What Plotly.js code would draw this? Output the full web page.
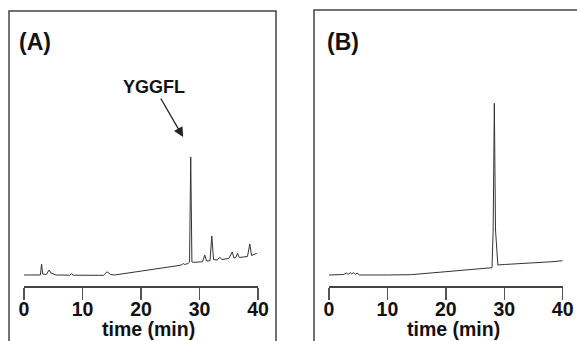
<!DOCTYPE html>
<html>
<head>
<meta charset="utf-8">
<script src="https://cdn.plot.ly/plotly-3.0.1.min.js"></script>
<style>html,body{margin:0;padding:0;background:#fff;}#chart{width:577px;height:341px;}</style>
</head>
<body>
<div id="chart"></div>
<script>
// Panel A chromatogram (time in min, detector signal in arbitrary units)
var timeA = [0, 2.8, 3.0, 3.2, 3.8, 4.3, 4.6, 5.0, 5.5, 7.8, 8.1, 8.4, 13.6, 14.2, 14.8, 15.5, 18, 20, 22, 25, 26.5, 27.0, 27.2, 27.4, 28.0, 28.3, 28.5, 28.7, 29.0, 30.5, 30.9, 31.2, 31.8, 32.1, 32.4, 33.0, 33.5, 33.8, 35.0, 35.6, 35.9, 36.2, 36.5, 36.8, 38.2, 38.6, 38.9, 39.8];
var signalA = [4.14, 4.14, 8.27, 4.51, 4.32, 6.02, 4.89, 4.51, 4.14, 4.06, 4.59, 4.06, 4.02, 5.34, 4.32, 4.14, 4.89, 5.64, 6.20, 7.14, 7.71, 8.01, 8.46, 8.08, 8.42, 9.02, 48.50, 9.02, 8.91, 9.10, 11.65, 9.40, 9.51, 18.80, 9.96, 9.77, 10.79, 9.96, 10.34, 12.78, 10.53, 10.71, 12.29, 10.71, 11.09, 15.79, 11.47, 12.29];

// Panel B chromatogram
var timeB = [0, 2.5, 3.0, 3.3, 3.6, 3.9, 4.2, 4.5, 4.8, 5.2, 10, 14, 20, 24.1, 27.5, 27.9, 28.1, 28.3, 28.5, 28.9, 30, 35, 38, 40];
var signalB = [4.14, 4.32, 4.89, 4.32, 5.08, 4.51, 5.08, 4.32, 4.89, 4.14, 4.14, 4.25, 5.38, 6.02, 6.77, 6.88, 21.05, 68.68, 21.05, 7.89, 8.08, 8.65, 9.10, 9.51];

var tickVals = [0, 10, 20, 30, 40];
var tickText = ["0", "10", "20", "30", "40"];
var panelLabels = ["(A)", "(B)"];
var axisTitle = "time (min)";
var peakLabel = "YGGFL";
var peakTime = 27.2, peakSignal = 56.0;

var W = 577, H = 341;
function px(x){ return x / W; }
function py(y){ return 1 - y / H; }

var fam = "Liberation Sans, Arial, sans-serif";
var boldFont = function(s){ return {family: fam, size: s, color: "#111", weight: "bold"}; };

// main axis: line + ticks (no labels)
function xax(domain, anchor){
  return {
    domain: domain, anchor: anchor, range: [0, 40], fixedrange: true,
    showline: true, linecolor: "#444", linewidth: 1.5, mirror: false,
    showgrid: false, zeroline: false,
    ticks: "outside", ticklen: 12, tickwidth: 1.5, tickcolor: "#555",
    tickvals: tickVals, showticklabels: false
  };
}
// overlay axis carrying only the tick labels, set a little higher
function xlab(domain, over){
  return {
    domain: domain, overlaying: over, anchor: "free", position: py(295), side: "bottom",
    range: [0, 40], fixedrange: true, showline: false, showgrid: false, zeroline: false,
    ticks: "", tickvals: tickVals, ticktext: tickText, tickfont: boldFont(19.5)
  };
}
function yax(domain, anchor){
  return {domain: domain, anchor: anchor, range: [0, 100], visible: false, fixedrange: true};
}

var data = [
  {x: timeA, y: signalA, type: "scatter", mode: "lines", xaxis: "x", yaxis: "y",
   line: {color: "#333", width: 1}, hoverinfo: "skip"},
  {x: timeB, y: signalB, type: "scatter", mode: "lines", xaxis: "x2", yaxis: "y2",
   line: {color: "#333", width: 1}, hoverinfo: "skip"},
  {x: [], y: [], type: "scatter", xaxis: "x3", yaxis: "y", hoverinfo: "skip"},
  {x: [], y: [], type: "scatter", xaxis: "x4", yaxis: "y2", hoverinfo: "skip"}
];

var yDom = [py(286), py(20)];
var domA = [px(24), px(258)], domB = [px(329), px(562.7)];
var layout = {
  width: W, height: H,
  margin: {l: 0, r: 0, t: 0, b: 0},
  paper_bgcolor: "#fff", plot_bgcolor: "rgba(0,0,0,0)",
  showlegend: false,
  xaxis: xax(domA, "y"),
  yaxis: yax(yDom, "x"),
  xaxis2: xax(domB, "y2"),
  yaxis2: yax(yDom, "x2"),
  xaxis3: xlab(domA, "x"),
  xaxis4: xlab(domB, "x2"),
  shapes: [
    {type: "rect", xref: "paper", yref: "paper", x0: px(9), x1: px(276), y0: -0.05, y1: py(11),
     line: {color: "#444", width: 1.5}},
    {type: "rect", xref: "paper", yref: "paper", x0: px(314), x1: 1.05, y0: -0.05, y1: py(10),
     line: {color: "#444", width: 1.5}}
  ],
  annotations: [
    {xref: "paper", yref: "paper", x: px(34.5), y: py(42), text: panelLabels[0], showarrow: false,
     xanchor: "center", yanchor: "middle", font: boldFont(23)},
    {xref: "paper", yref: "paper", x: px(342.5), y: py(42), text: panelLabels[1], showarrow: false,
     xanchor: "center", yanchor: "middle", font: boldFont(23)},
    {xref: "paper", yref: "paper", x: px(148), y: py(329), text: axisTitle, showarrow: false,
     xanchor: "center", yanchor: "middle", font: boldFont(19.5)},
    {xref: "paper", yref: "paper", x: px(453), y: py(329), text: axisTitle, showarrow: false,
     xanchor: "center", yanchor: "middle", font: boldFont(19.5)},
    {xref: "x", yref: "y", x: peakTime, y: peakSignal, text: peakLabel, showarrow: true,
     ax: -29, ay: -50, arrowhead: 2, arrowsize: 1.5, arrowwidth: 1.3, arrowcolor: "#222",
     font: boldFont(18)}
  ]
};

Plotly.newPlot("chart", data, layout, {staticPlot: true, displayModeBar: false});
</script>
</body>
</html>
